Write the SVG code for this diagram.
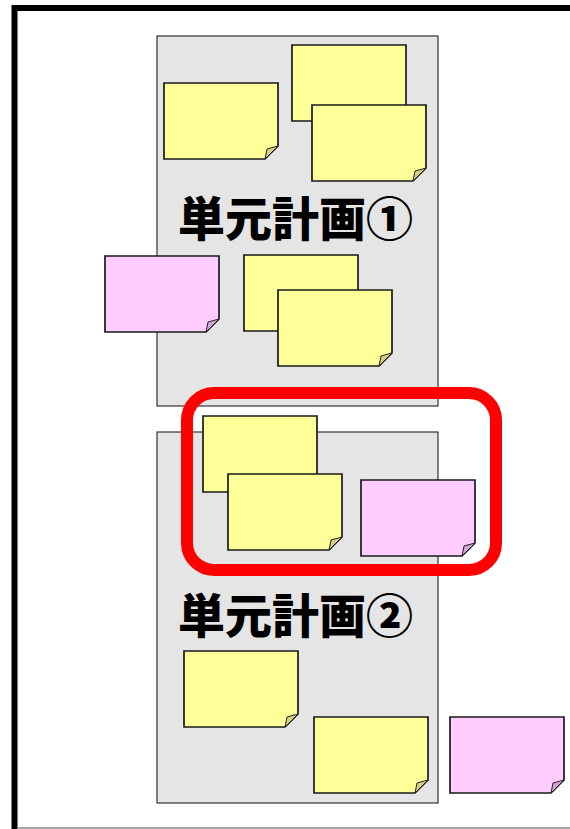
<svg xmlns="http://www.w3.org/2000/svg" width="570" height="829" viewBox="0 0 570 829">
<defs>
<style>
.panel{fill:#e5e5e5;stroke:#333;stroke-width:1.2}
.ny{fill:#ffff99;stroke:#1a1a1a;stroke-width:1.7;stroke-linejoin:miter}
.np{fill:#ffccff;stroke:#1a1a1a;stroke-width:1.7}
.fy{fill:#d6d27a;stroke:#222;stroke-width:1}
.fp{fill:#d9a3d3;stroke:#222;stroke-width:1}
.lbl{font-family:"Noto Sans CJK JP","Noto Sans CJK SC",sans-serif;font-weight:900;font-size:47px;fill:#000}
</style>
<g id="noteY"><path class="ny" d="M0,0H114V63L101,76H0Z"/><path class="fy" d="M101,76L103,66L114,63Z"/></g>
<g id="noteP"><path class="np" d="M0,0H114V63L101,76H0Z"/><path class="fp" d="M101,76L103,66L114,63Z"/></g>
</defs>
<rect width="570" height="829" fill="#fff"/>
<g id="frame">
<path d="M14.5,829V8H570" fill="none" stroke="#000" stroke-width="6"/>
<line x1="17" y1="828" x2="570" y2="828" stroke="#888" stroke-width="1.5"/>
</g>
<g id="unit1">
<rect class="panel" x="157" y="36" width="281" height="370"/>
<text class="lbl" x="178" y="236">単元計画①</text>
</g>
<g id="unit2">
<rect class="panel" x="157" y="432" width="281" height="371"/>
<text class="lbl" x="178" y="633">単元計画②</text>
</g>
<g id="notes">
<use id="n1" href="#noteY" x="164" y="83"/>
<use id="n2" href="#noteY" x="292" y="45"/>
<use id="n3" href="#noteY" x="312" y="105"/>
<use id="n4" href="#noteP" x="105" y="256"/>
<use id="n5" href="#noteY" x="244" y="255"/>
<use id="n6" href="#noteY" x="278" y="290"/>
<use id="n7" href="#noteY" x="203" y="416"/>
<use id="n8" href="#noteY" x="228" y="474"/>
<use id="n9" href="#noteP" x="361" y="480"/>
<use id="n10" href="#noteY" x="184" y="651"/>
<use id="n11" href="#noteY" x="314" y="717"/>
<use id="n12" href="#noteP" x="450" y="717"/>
</g>
<g id="highlight">
<rect x="187" y="393" width="309" height="177" rx="27" ry="27" fill="none" stroke="#ff0000" stroke-width="12"/>
</g>
</svg>
